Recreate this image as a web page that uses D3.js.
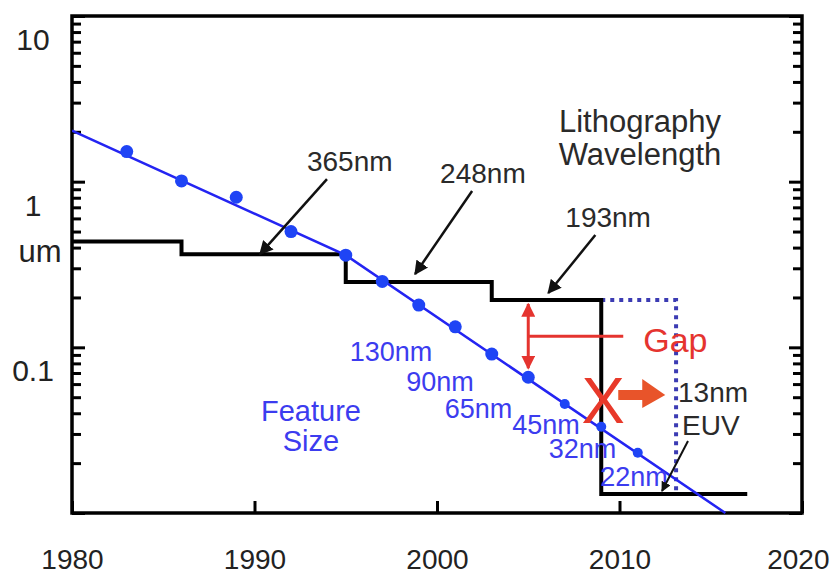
<!DOCTYPE html>
<html>
<head>
<meta charset="utf-8">
<script src="https://cdn.jsdelivr.net/npm/d3@7"></script>
<style>
  body { margin: 0; background: #fff; }
  svg { font-family: 'Liberation Sans', Arial, sans-serif; }
</style>
</head>
<body>
<svg width="832" height="576"></svg>
<script>
// feature size (um) per node year
const featureYears = [1983, 1986, 1989, 1992, 1995, 1997, 1999, 2001, 2003, 2005, 2007, 2009, 2011];
const featureSizes = [1.52, 1.01, 0.805, 0.50, 0.36, 0.25, 0.18, 0.133, 0.091, 0.066, 0.0455, 0.0332, 0.0231];

// trend line drawn through the feature sizes
const trendYears = [1980, 1995, 2015.8];
const trendSizes = [2.03, 0.36, 0.01];

// lithography wavelength (um), step changes
const stepYears = [1980, 1986, 1995, 2003, 2009, 2017];
const stepWavelengths = [0.436, 0.365, 0.248, 0.193, 0.013];

// dotted EUV path
const euvYears = [2009, 2013.1, 2013.1];
const euvWavelengths = [0.193, 0.193, 0.013];

const nodeLabels = ['130nm', '90nm', '65nm', '45nm', '32nm', '22nm'];
const nodeYears = [2001, 2003, 2005, 2007, 2009, 2011];

const waveLabels = ['365nm', '248nm', '193nm'];
const waveArrowYears = [1990.3, 1998.8, 2006.1];
const waveArrowLevels = [0.365, 0.248, 0.193];

const xTicks = [1980, 1990, 2000, 2010, 2020];
const yLabelValues = [10, 1, 0.1];

const svg = d3.select('svg');
const margin = { left: 72, right: 30, top: 16, bottom: 63 };
const width = +svg.attr('width');
const height = +svg.attr('height');

const blue = '#2424f2';
const dotBlue = '#1f44f5';
const labelBlue = '#3c3cef';
const red = '#e5342f';
const ink = '#222';

const xScale = d3.scaleLinear()
    .domain([1980, 2020])
    .range([margin.left, width - margin.right]);
const yScale = d3.scaleLog()
    .domain([0.01, 10])
    .range([height - margin.bottom, margin.top]);

const defs = svg.append('defs');
const marker = (id, color, size) => defs.append('marker')
    .attr('id', id)
    .attr('viewBox', '0 0 10 10')
    .attr('refX', 9).attr('refY', 5)
    .attr('markerUnits', 'userSpaceOnUse')
    .attr('markerWidth', size).attr('markerHeight', size)
    .attr('orient', 'auto-start-reverse')
    .append('path')
    .attr('d', 'M0,0 L10,5 L0,10 Z')
    .attr('fill', color);
marker('arrowBlack', '#111', 14);
marker('arrowSmall', '#111', 10);
marker('arrowRed', red, 14);

// axes: ticks on the inside
const isMajor = d => Math.abs(Math.log10(d) - Math.round(Math.log10(d))) < 1e-6;

const yAxisL = d3.axisLeft(yScale)
    .tickValues(yScale.ticks())
    .tickSizeInner(-9)
    .tickSizeOuter(0)
    .tickFormat('');
const yAxisR = d3.axisRight(yScale)
    .tickValues(yScale.ticks())
    .tickSizeInner(-9)
    .tickSizeOuter(0)
    .tickFormat('');
const xAxis = d3.axisBottom(xScale)
    .tickValues(xTicks)
    .tickSizeInner(-12)
    .tickSizeOuter(0)
    .tickPadding(36)
    .tickFormat(d3.format('d'));

const yAxisLG = svg.append('g')
    .attr('transform', `translate(${margin.left},0)`)
    .call(yAxisL);
const yAxisRG = svg.append('g')
    .attr('transform', `translate(${width - margin.right},0)`)
    .call(yAxisR);
const xAxisG = svg.append('g')
    .attr('transform', `translate(0,${height - margin.bottom})`)
    .call(xAxis);

[yAxisLG, yAxisRG, xAxisG].forEach(g => {
    g.select('.domain').remove();
    g.selectAll('.tick line').attr('stroke', '#000').attr('stroke-width', 3);
});
yAxisLG.selectAll('.tick line').filter(isMajor).attr('x2', 13);
yAxisRG.selectAll('.tick line').filter(isMajor).attr('x2', -13);
xAxisG.selectAll('.tick text')
    .attr('font-size', 28)
    .attr('fill', ink)
    .attr('font-family', null);
// last year label is pulled in so it stays on the page
xAxisG.selectAll('.tick text').filter(d => d === 2020)
    .attr('text-anchor', 'end')
    .attr('x', 27);

// y labels sit a bit below their ticks in the original slide
svg.append('g').selectAll('text').data(yLabelValues)
    .enter().append('text')
    .attr('x', 33)
    .attr('y', d => yScale(d) + 34)
    .attr('text-anchor', 'middle')
    .attr('font-size', 30)
    .attr('fill', ink)
    .text(d => String(d));
svg.append('text')
    .attr('x', 40)
    .attr('y', yScale(1) + 80)
    .attr('text-anchor', 'middle')
    .attr('font-size', 31)
    .attr('fill', ink)
    .text('um');

// frame
svg.append('rect')
    .attr('x', margin.left)
    .attr('y', margin.top)
    .attr('width', width - margin.left - margin.right)
    .attr('height', height - margin.top - margin.bottom)
    .attr('fill', 'none')
    .attr('stroke', '#000')
    .attr('stroke-width', 3.5);

defs.append('clipPath').attr('id', 'plot')
    .append('rect')
    .attr('x', margin.left)
    .attr('y', margin.top)
    .attr('width', width - margin.left - margin.right)
    .attr('height', height - margin.top - margin.bottom + 2);

const plot = svg.append('g').attr('clip-path', 'url(#plot)');

// wavelength steps
const stepPoints = [];
stepWavelengths.forEach((w, i) => {
    stepPoints.push([stepYears[i], w], [stepYears[i + 1], w]);
});
const line = d3.line()
    .x(d => xScale(d[0]))
    .y(d => yScale(d[1]));

plot.append('path')
    .datum(euvYears.map((y, i) => [y, euvWavelengths[i]]))
    .attr('d', line)
    .attr('fill', 'none')
    .attr('stroke', '#3b3bb3')
    .attr('stroke-width', 4)
    .attr('stroke-dasharray', '4,5');

plot.append('path')
    .datum(stepPoints)
    .attr('d', line)
    .attr('fill', 'none')
    .attr('stroke', '#000')
    .attr('stroke-width', 4);

// feature size trend + points
plot.append('path')
    .datum(trendYears.map((y, i) => [y, trendSizes[i]]))
    .attr('d', line)
    .attr('fill', 'none')
    .attr('stroke', blue)
    .attr('stroke-width', 2.5);

plot.selectAll('circle').data(featureYears.map((y, i) => [y, featureSizes[i]]))
    .enter().append('circle')
    .attr('cx', d => xScale(d[0]))
    .attr('cy', d => yScale(d[1]))
    .attr('r', d => d[0] <= 2005 ? 6.5 : 5)
    .attr('fill', dotBlue);

// node labels
const nodeOffsets = [[-23, 34], [-18, 37], [-16, 41], [15, 30], [15, 31], [30, 33]];
svg.append('g').selectAll('text').data(nodeLabels)
    .enter().append('text')
    .attr('x', (d, i) => xScale(nodeYears[i]) + nodeOffsets[i][0])
    .attr('y', (d, i) => yScale(featureSizes[featureYears.indexOf(nodeYears[i])]) + nodeOffsets[i][1])
    .attr('text-anchor', 'end')
    .attr('font-size', 27)
    .attr('fill', labelBlue)
    .text(d => d);

svg.append('text')
    .attr('x', 311).attr('y', 421)
    .attr('text-anchor', 'middle')
    .attr('font-size', 29)
    .attr('fill', labelBlue)
    .text('Feature');
svg.append('text')
    .attr('x', 311).attr('y', 451)
    .attr('text-anchor', 'middle')
    .attr('font-size', 29)
    .attr('fill', labelBlue)
    .text('Size');

svg.append('text')
    .attr('x', 640).attr('y', 132)
    .attr('text-anchor', 'middle')
    .attr('font-size', 31)
    .attr('fill', '#2a2a2a')
    .text('Lithography');
svg.append('text')
    .attr('x', 640).attr('y', 165)
    .attr('text-anchor', 'middle')
    .attr('font-size', 31)
    .attr('fill', '#2a2a2a')
    .text('Wavelength');

// wavelength arrows
const waveTails = [[67, -75], [57, -83], [47, -58]];
const waveTipLift = [0, 8, 7];
const waveTextDx = [-20, -32, -30];
waveLabels.forEach((lab, i) => {
    const tx = xScale(waveArrowYears[i]);
    const ty = yScale(waveArrowLevels[i]) - waveTipLift[i];
    const sx = tx + waveTails[i][0];
    const sy = ty + waveTails[i][1];
    svg.append('line')
        .attr('x1', sx).attr('y1', sy)
        .attr('x2', tx).attr('y2', ty)
        .attr('stroke', '#111')
        .attr('stroke-width', 2.5)
        .attr('marker-end', 'url(#arrowBlack)');
    svg.append('text')
        .attr('x', sx + waveTextDx[i])
        .attr('y', sy - 8)
        .attr('font-size', 28)
        .attr('fill', '#2a2a2a')
        .text(lab);
});

// gap annotation at 2005
const gx = xScale(2005);
const gTop = yScale(0.193) + 4;
const gBot = yScale(0.066) - 9;
svg.append('line')
    .attr('x1', gx).attr('y1', gBot)
    .attr('x2', gx).attr('y2', gTop)
    .attr('stroke', red)
    .attr('stroke-width', 3)
    .attr('marker-start', 'url(#arrowRed)')
    .attr('marker-end', 'url(#arrowRed)');
const gMid = (gTop + gBot) / 2;
svg.append('line')
    .attr('x1', gx).attr('y1', gMid)
    .attr('x2', gx + 95).attr('y2', gMid)
    .attr('stroke', red)
    .attr('stroke-width', 3);
svg.append('text')
    .attr('x', gx + 115)
    .attr('y', gMid + 16)
    .attr('font-size', 34)
    .attr('fill', red)
    .text('Gap');

// X over the 193nm cliff and the arrow to EUV
const cx = xScale(2009) + 2;
svg.append('text')
    .attr('x', cx)
    .attr('y', 423)
    .attr('text-anchor', 'middle')
    .attr('font-size', 65)
    .attr('fill', '#e8392a')
    .text('X');
const ax = cx + 15;
const ay = 395;
svg.append('path')
    .attr('d', `M${ax},${ay - 5} L${ax + 24},${ay - 5} L${ax + 24},${ay - 16} L${ax + 47},${ay} L${ax + 24},${ay + 13} L${ax + 24},${ay + 5} L${ax},${ay + 5} Z`)
    .attr('fill', '#e8542a');

svg.append('text')
    .attr('x', 678)
    .attr('y', 402)
    .attr('font-size', 28)
    .attr('fill', '#2a2a2a')
    .text('13nm');
svg.append('text')
    .attr('x', 682)
    .attr('y', 435)
    .attr('font-size', 28)
    .attr('fill', '#2a2a2a')
    .text('EUV');
svg.append('line')
    .attr('x1', 688).attr('y1', 441)
    .attr('x2', 662).attr('y2', 491)
    .attr('stroke', '#111')
    .attr('stroke-width', 2)
    .attr('marker-end', 'url(#arrowSmall)');
</script>
</body>
</html>
